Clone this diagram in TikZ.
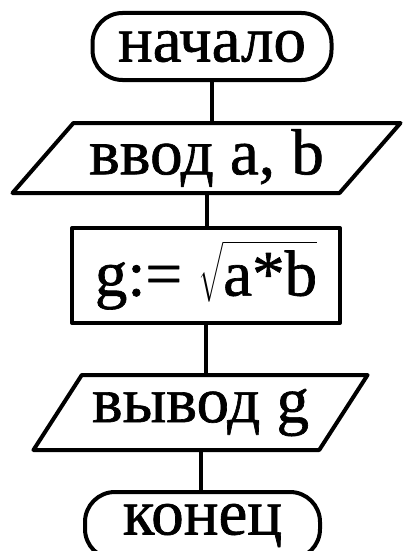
\documentclass[tikz,border=0pt]{standalone}
\usepackage{amsmath}
\usepackage{fontspec}
\setmainfont{Liberation Serif}[FakeBold=1]
\usetikzlibrary{shapes.geometric}

\begin{document}
\begin{tikzpicture}[x=1pt, y=-1pt, line join=round, line cap=round, line width=4pt,
	font=\fontsize{65}{65}\selectfont,
	term/.style={draw, rounded corners=30pt, minimum width=239pt, minimum height=67pt, inner sep=0pt},
	io/.style={draw, trapezium, trapezium left angle=47, trapezium right angle=133, trapezium stretches=true, inner sep=0pt},
	proc/.style={draw, rectangle, minimum width=268pt, minimum height=95pt, inner sep=0pt}]
	\useasboundingbox (0,0) rectangle (402,551);
	% Блоки схемы
	\node[term] (start) at (212,46.5) {начало};
	\node[io, minimum width=389pt, minimum height=70pt] (inp) at (206.5,158) {ввод a, b};
	\node[proc] (calc) at (206,275.5) {g:= $\sqrt{\text{a*b}}$};
	\node[io, minimum width=335pt, minimum height=75pt] (outp) at (200.5,412.5) {вывод g};
	\node[term, minimum width=235pt] (stop) at (202.5,525.5) {конец};
	% Линии связи
	\draw (start.south) -- (start.south |- inp.north);
	\draw (inp.south) -- (inp.south |- calc.north);
	\draw (calc.south) -- (calc.south |- outp.north);
	\draw (outp.south) -- (outp.south |- stop.north);
\end{tikzpicture}
\end{document}
